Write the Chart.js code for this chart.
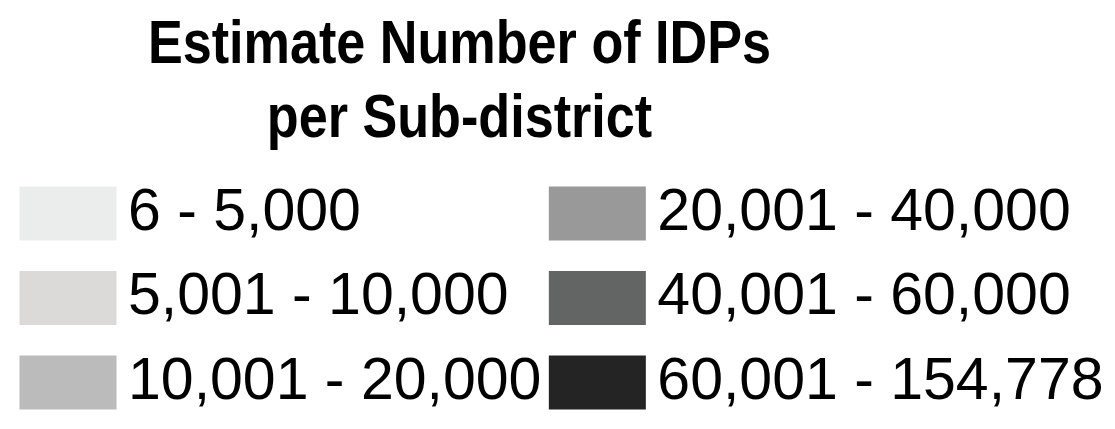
<!DOCTYPE html>
<html>
<head>
<meta charset="utf-8">
<title>Estimate Number of IDPs per Sub-district</title>
<script src="https://cdn.jsdelivr.net/npm/chart.js@4.4.1/dist/chart.umd.min.js"></script>
<style>
  html, body { margin: 0; padding: 0; background: #ffffff; }
  #wrap { width: 1115px; height: 429px; position: relative; }
</style>
</head>
<body>
<div id="wrap"><canvas id="idpLegend"></canvas></div>
<script>
// classes of the map legend
const titleLines = ["Estimate Number of IDPs", "per Sub-district"];
const binLabels = [
  "6 - 5,000",
  "5,001 - 10,000",
  "10,001 - 20,000",
  "20,001 - 40,000",
  "40,001 - 60,000",
  "60,001 - 154,778",
];
const binColors = ["#ebedec", "#dbdad9", "#bbbbbb", "#999999", "#636564", "#242424"];

// title is drawn a bit condensed, like the original
const condensedTitle = {
  id: "condensedTitle",
  afterDraw(chart) {
    const ctx = chart.ctx;
    ctx.save();
    ctx.font = 'bold 61px "Liberation Sans", Arial, sans-serif';
    ctx.fillStyle = "#000";
    ctx.textAlign = "center";
    ctx.textBaseline = "alphabetic";
    titleLines.forEach((line, i) => {
      ctx.save();
      ctx.translate(459.5, 63.3 + i * 73.4);
      ctx.scale(0.855, 1);
      ctx.fillText(line, 0, 0);
      ctx.restore();
    });
    ctx.restore();
  },
};

// a left legend is capped at half the width; let its second column show
const wideLegend = {
  id: "wideLegend",
  beforeDraw(chart) {
    chart.legend.right = chart.width;
    chart.legend.width = chart.legend.right - chart.legend.left;
  },
};

document.addEventListener("DOMContentLoaded", function () {
  const ctx = document.getElementById("idpLegend").getContext("2d");
  const legendChart = new Chart(ctx, {
    type: "bar",
    data: {
      labels: [],
      datasets: binLabels.map((label, i) => ({
        label: label,
        data: [],
        backgroundColor: binColors[i],
      })),
    },
    options: {
      responsive: true,
      maintainAspectRatio: false,
      animation: false,
      layout: {
        padding: { top: 158.5, left: 12, right: 0, bottom: -12 },
      },
      scales: {
        x: { display: false },
        y: { display: false },
      },
      plugins: {
        title: { display: false },
        tooltip: { enabled: false },
        legend: {
          display: true,
          position: "left",
          align: "start",
          onClick: null,
          labels: {
            color: "#000",
            font: { family: '"Liberation Sans", Arial, sans-serif', size: 59 },
            boxWidth: 61,
            boxHeight: 18,
            padding: 25.5,
            // key is stroked in its own colour so it reaches full size
            generateLabels: (chart) =>
              Chart.defaults.plugins.legend.labels.generateLabels(chart).map((item) => ({
                ...item,
                strokeStyle: item.fillStyle,
                lineWidth: 36,
                lineJoin: "miter",
              })),
          },
        },
      },
    },
    plugins: [condensedTitle, wideLegend],
  });
});
</script>
</body>
</html>
